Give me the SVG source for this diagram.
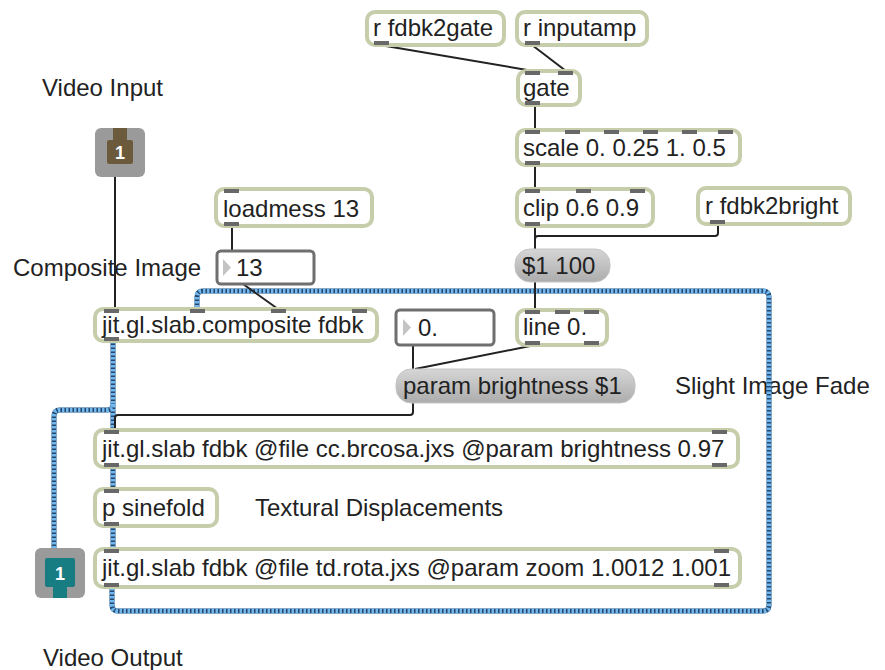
<svg xmlns="http://www.w3.org/2000/svg" width="885" height="670" viewBox="0 0 885 670">
<defs>
<linearGradient id="msg" x1="0" y1="0" x2="0" y2="1">
<stop offset="0" stop-color="#d6d6d6"/>
<stop offset="1" stop-color="#acacac"/>
</linearGradient>
<style>
text{font-family:"Liberation Sans",Arial,sans-serif;font-size:24px;fill:#222}
.obj{fill:#fff;stroke:#c6cdab;stroke-width:4}
.msg{fill:url(#msg);stroke:#c4c4c4;stroke-width:1}
.num{fill:#fff;stroke:#6f6f6f;stroke-width:3}
.tri{fill:#c4c4c4}
.port{fill:#686868}
.cord{fill:none;stroke:#222;stroke-width:2}
.jb{fill:none;stroke:#24476b;stroke-width:5;stroke-linejoin:round}
.jt{fill:none;stroke:#72b8ee;stroke-width:5;stroke-dasharray:2.5 1.5;stroke-linejoin:round}
.pn{font-size:18px;font-weight:bold;fill:#fff}
</style>
</defs>
<rect width="885" height="670" fill="#fff"/>

<g id="label-video-input"><text x="42" y="96">Video Input</text></g>
<g id="label-composite"><text x="13" y="276">Composite Image</text></g>
<g id="label-fade"><text x="675" y="394">Slight Image Fade</text></g>
<g id="label-textural"><text x="255" y="516">Textural Displacements</text></g>
<g id="label-video-output"><text x="43" y="666">Video Output</text></g>

<g id="connectors">
<path class="jb" d="M112 588 V605 Q112 611 118 611 H763 Q769 611 769 605 V297 Q769 291 763 291 H203 Q197 291 197 297 V309"/>
<path class="jt" d="M112 588 V605 Q112 611 118 611 H763 Q769 611 769 605 V297 Q769 291 763 291 H203 Q197 291 197 297 V309"/>
<path class="jb" d="M113 341 V430 M113 404 Q113 410 107 410 H60 Q54 410 54 416 V549 M113 467 V489 M113 526 V549"/>
<path class="jt" d="M113 341 V430 M113 404 Q113 410 107 410 H60 Q54 410 54 416 V549 M113 467 V489 M113 526 V549"/>
<path class="cord" d="M115 177 V309"/>
<path class="cord" d="M232 226 V251"/>
<path class="cord" d="M243 284 L278 309"/>
<path class="cord" d="M380 45 L533 71"/>
<path class="cord" d="M532 45 L566 71"/>
<path class="cord" d="M535 105 V130"/>
<path class="cord" d="M535 165 V189"/>
<path class="cord" d="M535 226 V249"/>
<path class="cord" d="M718 224 V233 Q718 236 715 236 H538 Q535 236 535 239"/>
<path class="cord" d="M535 282 V310"/>
<path class="cord" d="M535 345 L415 369"/>
<path class="cord" d="M413 345 V369"/>
<path class="cord" d="M413 403 V412 Q413 415 410 415 H118 Q115 415 115 418 V430"/>
</g>

<g id="inlet1">
<rect x="95" y="128" width="50" height="49" rx="6" fill="#9a9a9a"/>
<rect x="107" y="140" width="26" height="24" rx="2" fill="#6c5a3c"/>
<rect x="113" y="128" width="14" height="13" fill="#6c5a3c"/>
<text class="pn" x="120" y="159" text-anchor="middle">1</text>
</g>

<g id="outlet1">
<rect x="35" y="548" width="50" height="50" rx="6" fill="#9a9a9a"/>
<rect x="45" y="558" width="30" height="29" rx="2" fill="#187d83"/>
<rect x="53" y="586" width="14" height="12" fill="#187d83"/>
<text class="pn" x="60" y="580" text-anchor="middle">1</text>
</g>

<g id="r-fdbk2gate">
<rect class="obj" x="367" y="12" width="137" height="33" rx="8"/>
<rect class="port" x="374" y="41" width="15" height="4"/>
<text x="373" y="36">r fdbk2gate</text>
</g>

<g id="r-inputamp">
<rect class="obj" x="517" y="12" width="130" height="33" rx="8"/>
<rect class="port" x="525" y="41" width="15" height="4"/>
<text x="523" y="36">r inputamp</text>
</g>

<g id="gate">
<rect class="obj" x="518" y="71" width="62" height="34" rx="8"/>
<rect class="port" x="525" y="71" width="15" height="4"/>
<rect class="port" x="558" y="71" width="15" height="4"/>
<rect class="port" x="525" y="101" width="15" height="4"/>
<text x="523" y="96">gate</text>
</g>

<g id="scale">
<rect class="obj" x="517" y="130" width="223" height="35" rx="8"/>
<rect class="port" x="525" y="130" width="15" height="4"/>
<rect class="port" x="565" y="130" width="15" height="4"/>
<rect class="port" x="604" y="130" width="15" height="4"/>
<rect class="port" x="643" y="130" width="15" height="4"/>
<rect class="port" x="682" y="130" width="15" height="4"/>
<rect class="port" x="718" y="130" width="15" height="4"/>
<rect class="port" x="525" y="161" width="15" height="4"/>
<text x="523" y="156">scale 0. 0.25 1. 0.5</text>
</g>

<g id="loadmess">
<rect class="obj" x="216" y="189" width="156" height="37" rx="8"/>
<rect class="port" x="224" y="189" width="15" height="4"/>
<rect class="port" x="224" y="222" width="15" height="4"/>
<text x="223" y="217">loadmess 13</text>
</g>

<g id="clip">
<rect class="obj" x="517" y="189" width="136" height="37" rx="8"/>
<rect class="port" x="525" y="189" width="15" height="4"/>
<rect class="port" x="576" y="189" width="15" height="4"/>
<rect class="port" x="630" y="189" width="15" height="4"/>
<rect class="port" x="525" y="222" width="15" height="4"/>
<text x="523" y="216">clip 0.6 0.9</text>
</g>

<g id="r-fdbk2bright">
<rect class="obj" x="698" y="188" width="152" height="36" rx="8"/>
<rect class="port" x="710" y="220" width="15" height="4"/>
<text x="705" y="214">r fdbk2bright</text>
</g>

<g id="num13">
<rect class="num" x="217" y="251" width="97" height="33" rx="4"/>
<path class="tri" d="M223 259 L231 267.5 L223 276 Z"/>
<text x="236" y="276">13</text>
</g>

<g id="msg-100">
<rect class="msg" x="515" y="249" width="95" height="33" rx="15"/>
<text x="522" y="274">$1 100</text>
</g>

<g id="composite">
<rect class="obj" x="95" y="309" width="282" height="32" rx="8"/>
<rect class="port" x="104" y="309" width="15" height="4"/>
<rect class="port" x="190" y="309" width="15" height="4"/>
<rect class="port" x="271" y="309" width="15" height="4"/>
<rect class="port" x="352" y="309" width="15" height="4"/>
<rect class="port" x="104" y="337" width="15" height="4"/>
<text x="102" y="333">jit.gl.slab.composite fdbk</text>
</g>

<g id="num0">
<rect class="num" x="396" y="310" width="98" height="35" rx="4"/>
<path class="tri" d="M403 319 L411 327.5 L403 336 Z"/>
<text x="418" y="336">0.</text>
</g>

<g id="line">
<rect class="obj" x="517" y="310" width="90" height="35" rx="8"/>
<rect class="port" x="525" y="310" width="15" height="4"/>
<rect class="port" x="555" y="310" width="15" height="4"/>
<rect class="port" x="584" y="310" width="15" height="4"/>
<rect class="port" x="525" y="341" width="15" height="4"/>
<rect class="port" x="584" y="341" width="15" height="4"/>
<text x="523" y="335">line 0.</text>
</g>

<g id="msg-param">
<rect class="msg" x="396" y="369" width="239" height="34" rx="15"/>
<text x="403" y="394">param brightness $1</text>
</g>

<g id="brcosa">
<rect class="obj" x="95" y="430" width="643" height="37" rx="8"/>
<rect class="port" x="104" y="430" width="15" height="4"/>
<rect class="port" x="712" y="430" width="15" height="4"/>
<rect class="port" x="104" y="463" width="15" height="4"/>
<rect class="port" x="712" y="463" width="15" height="4"/>
<text x="102" y="457">jit.gl.slab fdbk @file cc.brcosa.jxs @param brightness 0.97</text>
</g>

<g id="sinefold">
<rect class="obj" x="95" y="489" width="122" height="37" rx="8"/>
<rect class="port" x="104" y="489" width="15" height="4"/>
<rect class="port" x="104" y="522" width="15" height="4"/>
<text x="102" y="516">p sinefold</text>
</g>

<g id="rota">
<rect class="obj" x="95" y="549" width="645" height="38" rx="8"/>
<rect class="port" x="104" y="549" width="15" height="4"/>
<rect class="port" x="714" y="549" width="15" height="4"/>
<rect class="port" x="104" y="583" width="15" height="4"/>
<rect class="port" x="714" y="583" width="15" height="4"/>
<text x="102" y="576">jit.gl.slab fdbk @file td.rota.jxs @param zoom 1.0012 1.001</text>
</g>
</svg>
